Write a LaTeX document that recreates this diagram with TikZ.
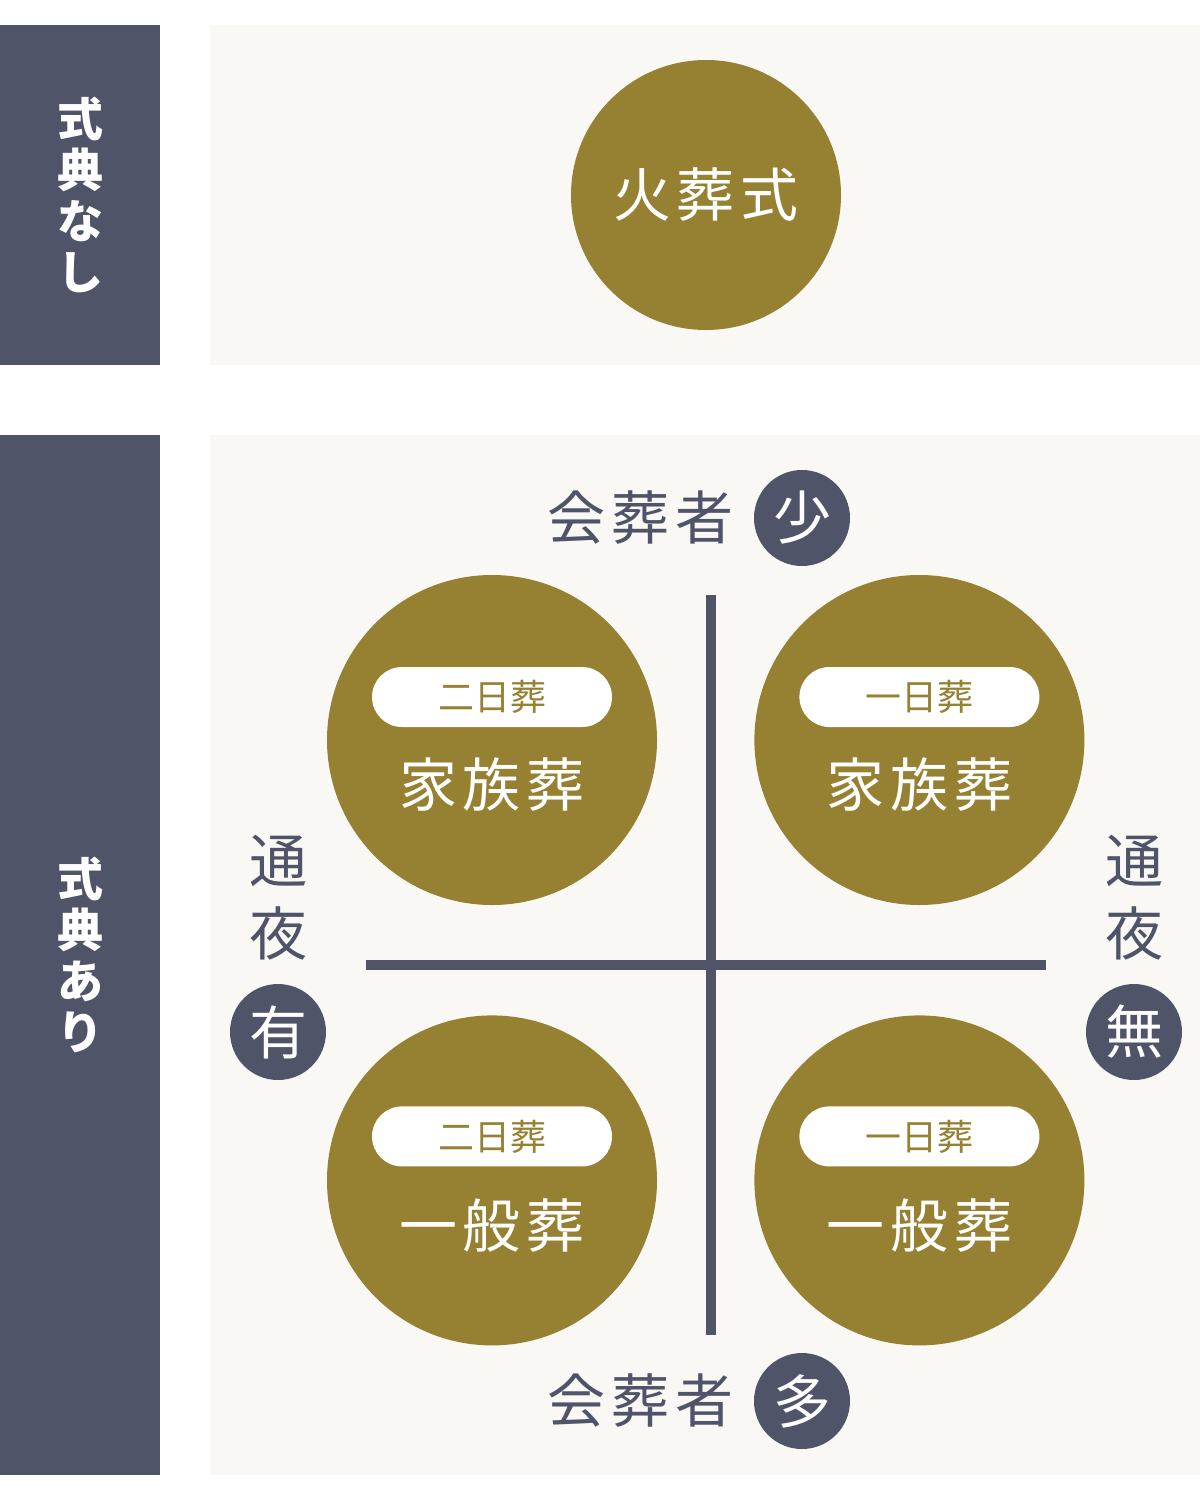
\documentclass[tikz,border=0pt]{standalone}
\usepackage{fontspec}
\setmainfont{Noto Sans CJK JP}
\usetikzlibrary{positioning, calc, shapes.misc}
\definecolor{sobanavy}{HTML}{4F5469}
\definecolor{sobagold}{HTML}{968032}
\definecolor{sobapaper}{HTML}{F9F8F4}
\newcommand{\trk}{\kern6pt}
\tikzset{
  sidebar/.style={rectangle,fill=sobanavy,text=white,minimum width=160pt,inner sep=0pt,align=center,font=\bfseries\fontsize{46}{51}\selectfont},
  panel/.style={rectangle,fill=sobapaper,minimum width=990pt,inner sep=0pt},
  plan/.style={circle,fill=sobagold,minimum size=330pt,inner sep=0pt},
  planname/.style={text=white,inner sep=0pt,font=\fontsize{58}{60}\selectfont},
  days/.style={rectangle,rounded corners=30pt,fill=white,text=sobagold,minimum width=240pt,minimum height=60pt,inner sep=0pt,font=\fontsize{36}{38}\selectfont},
  axislabel/.style={text=sobanavy,inner sep=0pt,align=center,font=\fontsize{58}{73}\selectfont},
  badge/.style={circle,fill=sobanavy,text=white,minimum size=96pt,inner sep=0pt,font=\fontsize{58}{60}\selectfont},
  axis/.style={draw=sobanavy,line width=10pt},
}
\begin{document}
\begin{tikzpicture}[x=1pt,y=-1pt]
	\useasboundingbox (0,0) rectangle (1200,1500);
	\fill[white] (0,0) rectangle (1200,1500);
	% without ceremony
	\node[sidebar,minimum height=340pt] (barNone) at (80,195) {式\\典\\な\\し};
	\node[panel,minimum height=340pt] (panelNone) at (705,195) {};
	\node[plan,minimum size=270pt] (cremation) at (706,195) {};
	\node[planname] at (cremation) {火\trk 葬\trk 式};
	% with ceremony
	\node[sidebar,minimum height=1040pt] (barWith) at (80,955) {式\\典\\あ\\り};
	\node[panel,minimum height=1040pt] (panelWith) at (705,955) {};
	\coordinate (vTop) at (711,595);
	\coordinate (vBot) at (711,1335);
	\coordinate (hLeft) at (366,965);
	\coordinate (hRight) at (1046,965);
	\draw[axis] (vTop) -- (vBot);
	\draw[axis] (hLeft) -- (hRight);
	\node[plan] (famTwo) at (492,740) {};
	\node[plan,right=97pt of famTwo] (famOne) {};
	\node[plan,below=110pt of famTwo] (genTwo) {};
	\node[plan,right=97pt of genTwo] (genOne) {};
	\node[days] at ($(famTwo)+(0,-43)$) {二日葬};
	\node[days] at ($(famOne)+(0,-43)$) {一日葬};
	\node[days] at ($(genTwo)+(0,-44)$) {二日葬};
	\node[days] at ($(genOne)+(0,-44)$) {一日葬};
	\node[planname] at ($(famTwo)+(0,45)$) {家\trk 族\trk 葬};
	\node[planname] at ($(famOne)+(0,45)$) {家\trk 族\trk 葬};
	\node[planname] at ($(genTwo)+(0,45)$) {一\trk 般\trk 葬};
	\node[planname] at ($(genOne)+(0,45)$) {一\trk 般\trk 葬};
	% axes
	\node[badge] (few) at (802,518) {少};
	\node[axislabel,left=20pt of few] (fewLabel) {会\trk 葬\trk 者};
	\node[badge] (many) at (802,1401) {多};
	\node[axislabel,left=20pt of many] (manyLabel) {会\trk 葬\trk 者};
	\node[badge] (wakeYes) at (278,1032) {有};
	\node[axislabel,above=23pt of wakeYes] (wakeYesLabel) {通\\夜};
	\node[badge] (wakeNo) at (1134,1032) {無};
	\node[axislabel,above=23pt of wakeNo] (wakeNoLabel) {通\\夜};
\end{tikzpicture}
\end{document}
